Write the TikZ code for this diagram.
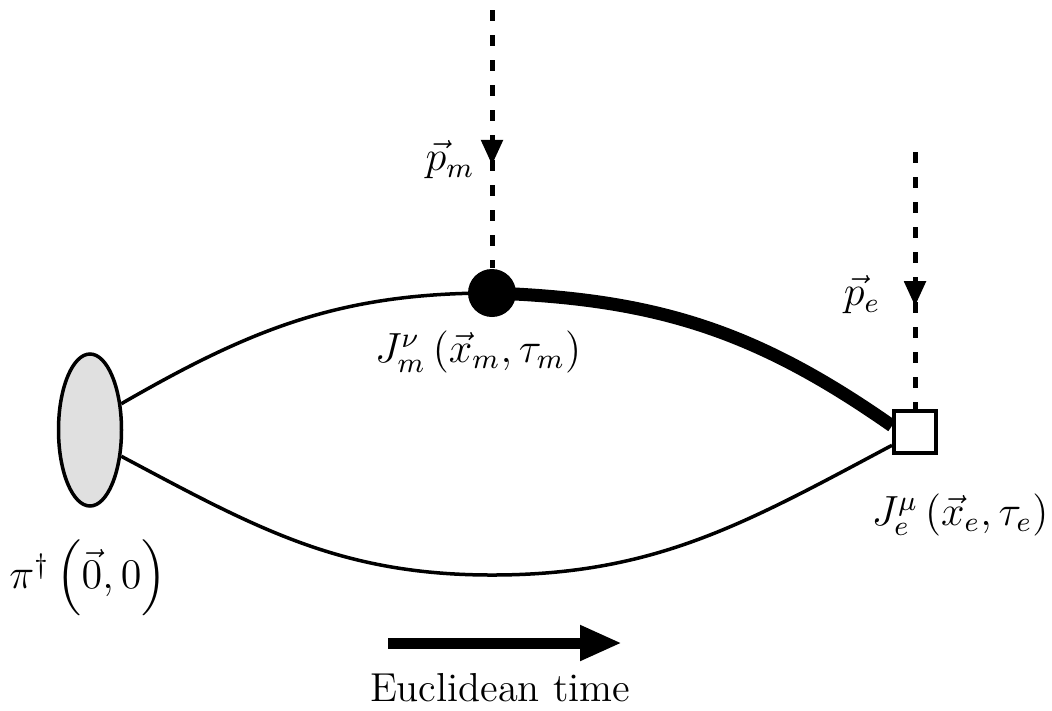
\documentclass[tikz,border=0pt]{standalone}
\usepackage{tikz,amsmath}
\usetikzlibrary{arrows.meta,positioning,calc,shapes,decorations.markings}

\pgfdeclarelayer{bg}
\pgfsetlayers{bg,main}

\begin{document}
\begin{tikzpicture}[>=Latex,
font=\fontsize{11.5}{14}\selectfont,
src/.style={ellipse,draw,line width=0.035cm,minimum width=0.63cm,minimum height=1.52cm,fill=black!12,inner sep=0pt},
vtx/.style={circle,fill=black,minimum size=0.48cm,inner sep=0pt},
ins/.style={rectangle,draw,line width=0.04cm,fill=white,minimum size=0.42cm,inner sep=0pt},
prop/.style={line width=0.035cm},
heavy/.style={line width=0.13cm},
photon/.style={line width=0.05cm,dash pattern=on 0.11cm off 0.14cm,postaction={decorate},
  decoration={markings,mark=at position 0.6 with {\arrow{Triangle[length=0.25cm,width=0.21cm]}}}}]
\useasboundingbox (0,0) rectangle (10.52,-7.10);
\node[src] (pion) at (0.90,-4.30) {};
\node[vtx] (vm) at (4.92,-2.93) {};
\node[ins] (ve) at (9.15,-4.32) {};
\coordinate (qm) at (4.92,-0.10);
\coordinate (qe) at (9.15,-1.52);
\coordinate (low) at (4.92,-5.75);
\coordinate (t0) at (3.88,-6.43);
\coordinate (t1) at (6.22,-6.43);
\node (pml) at (4.50,-1.60) {$\vec{p}_m$};
\node (pel) at (8.62,-2.95) {$\vec{p}_e$};
\node (jml) at (4.78,-3.52) {$J_m^{\nu}\left(\vec{x}_m,\tau_m\right)$};
\node (jel) at (9.60,-5.15) {$J_e^{\mu}\left(\vec{x}_e,\tau_e\right)$};
\node (pil) at (0.88,-5.78) {$\pi^{\dagger}\left(\vec{0},0\right)$};
\node (tl) at (5.00,-6.88) {Euclidean time};
% quark lines
\begin{pgfonlayer}{bg}
\draw[prop] (pion.40) to[out=30,in=180] (vm.center);
\draw[heavy] (vm.center) to[out=-2,in=145] (ve.165);
\draw[prop] (pion.-40) to[out=-28,in=180] (low) to[out=0,in=-152] (ve.-150);
\end{pgfonlayer}
% momenta
\draw[photon] (qm) -- (vm.north);
\draw[photon] (qe) -- (ve.north);
\draw[-{Triangle[length=0.42cm,width=0.33cm]},line width=0.11cm] (t0) -- (t1);
\end{tikzpicture}
\end{document}
